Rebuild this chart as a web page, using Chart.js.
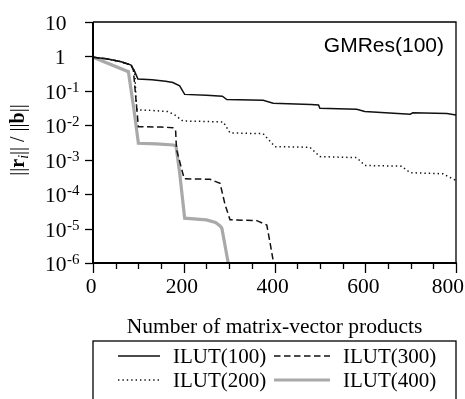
<!DOCTYPE html>
<html>
<head>
<meta charset="utf-8">
<title>GMRes(100) convergence</title>
<script src="https://cdn.jsdelivr.net/npm/chart.js@4.4.0/dist/chart.umd.min.js"></script>
<style>
  html, body { margin: 0; padding: 0; background: #fff; }
</style>
</head>
<body>
<canvas id="chart" width="465" height="399"></canvas>
<script>
// residual history for each ILUT fill level (x = matrix-vector products, y = ||r_i|| / ||b||)
const seriesNames = ["ILUT(100)", "ILUT(200)", "ILUT(300)", "ILUT(400)"];

const ilut100X = [0, 30, 62, 84, 92, 99, 130, 160, 176, 191, 202, 250, 285, 295, 375, 397, 480, 497, 500, 581, 599, 699, 705, 780, 800];
const ilut100Y = [0.95, 0.85, 0.70, 0.56, 0.36, 0.22, 0.21, 0.19, 0.175, 0.14, 0.079, 0.075, 0.070, 0.056, 0.053, 0.044, 0.040, 0.039, 0.031, 0.029, 0.025, 0.021, 0.023, 0.022, 0.020];

const ilut200X = [0, 30, 62, 84, 92, 95, 97, 130, 165, 180, 198, 240, 287, 302, 375, 401, 478, 500, 581, 599, 680, 699, 771, 800];
const ilut200Y = [0.95, 0.85, 0.70, 0.56, 0.36, 0.05, 0.028, 0.027, 0.025, 0.020, 0.0133, 0.0130, 0.0125, 0.0060, 0.0057, 0.0024, 0.0023, 0.00123, 0.00115, 0.00068, 0.00065, 0.00042, 0.00039, 0.00025];

const ilut300X = [0, 30, 62, 84, 89, 95, 100, 150, 176, 182, 184, 201, 258, 280, 291, 302, 361, 383, 390, 398];
const ilut300Y = [0.95, 0.85, 0.70, 0.56, 0.40, 0.05, 0.0091, 0.0089, 0.0085, 0.0075, 0.002, 0.00028, 0.00027, 0.000206, 0.00005, 0.000018, 0.000017, 0.0000127, 0.000004, 0.000001];

const ilut400X = [0, 78, 90, 100, 140, 177, 183, 191, 202, 250, 270, 280, 284, 298];
const ilut400Y = [0.95, 0.36, 0.03, 0.0030, 0.0029, 0.00268, 0.0025, 0.00041, 0.000020, 0.0000178, 0.000015, 0.000012, 0.0000102, 0.000001];

const xMajorTicks = [0, 200, 400, 600, 800];
const yTickPowers = [1, 0, -1, -2, -3, -4, -5, -6];

const serif = '"Liberation Serif", "Times New Roman", serif';
const sans = '"Liberation Sans", Arial, sans-serif';

function toPoints(xs, ys) {
  return xs.map((x, i) => ({ x: x, y: ys[i] }));
}

// axis box, tick marks and tick labels (10^n labels need superscripts)
const axesPlugin = {
  id: "axesFrame",
  afterDraw(chart) {
    const ctx = chart.ctx;
    const a = chart.chartArea;
    const xs = chart.scales.x;
    const ys = chart.scales.y;
    ctx.save();
    ctx.strokeStyle = "#000";
    ctx.fillStyle = "#000";

    ctx.lineWidth = 1.3;
    ctx.beginPath();
    ctx.moveTo(a.left, a.top);
    ctx.lineTo(a.right, a.top);
    ctx.lineTo(a.right, a.bottom);
    ctx.stroke();

    ctx.lineWidth = 2;
    ctx.beginPath();
    ctx.moveTo(a.left, a.top);
    ctx.lineTo(a.left, a.bottom);
    ctx.lineTo(a.right + 1, a.bottom);
    ctx.stroke();

    // x ticks every 50, longer on the labelled ones
    ctx.lineWidth = 1.3;
    for (let v = 0; v <= 800; v += 50) {
      const px = Math.round(xs.getPixelForValue(v)) + 0.5;
      const len = xMajorTicks.includes(v) ? 10 : 6;
      ctx.beginPath();
      ctx.moveTo(px, a.bottom);
      ctx.lineTo(px, a.bottom + len);
      ctx.stroke();
    }
    ctx.font = "21.5px " + serif;
    ctx.textBaseline = "alphabetic";
    xMajorTicks.forEach((v) => {
      const px = xs.getPixelForValue(v);
      const w = ctx.measureText(String(v)).width;
      // keep the last label inside the canvas
      const left = Math.min(px - 2 - w / 2, chart.width - 1 - w);
      ctx.textAlign = "left";
      ctx.fillText(String(v), left, a.bottom + 30);
    });

    // y ticks at each decade
    yTickPowers.forEach((p) => {
      const py = Math.round(ys.getPixelForValue(Math.pow(10, p))) + 0.5;
      ctx.beginPath();
      ctx.moveTo(a.left - 8, py);
      ctx.lineTo(a.left, py);
      ctx.stroke();

      ctx.font = "21.5px " + serif;
      ctx.textBaseline = "alphabetic";
      if (p === 0) {
        ctx.textAlign = "center";
        ctx.fillText("1", 60, py + 7);
      } else {
        ctx.textAlign = "left";
        ctx.fillText("10", 45, py + 7);
        if (p < 0) {
          ctx.font = "15px " + serif;
          ctx.fillText("-" + Math.abs(p), 67, py);
        }
      }
    });
    ctx.restore();
  }
};

// rotated y title: ||r_i|| / ||b|| with bold vectors
const yTitlePlugin = {
  id: "yTitle",
  afterDraw(chart) {
    const ctx = chart.ctx;
    const a = chart.chartArea;
    const parts = [
      { t: "||", f: "20px " + serif, dy: 0 },
      { t: "r", f: "bold 20px " + serif, dy: 0 },
      { t: "i", f: "italic 14px " + serif, dy: 4 },
      { t: "|| / ||", f: "20px " + serif, dy: 0 },
      { t: "b", f: "bold 20px " + serif, dy: 0 },
      { t: "||", f: "20px " + serif, dy: 0 }
    ];
    ctx.save();
    let total = 0;
    parts.forEach((p) => {
      ctx.font = p.f;
      p.w = ctx.measureText(p.t).width;
      total += p.w;
    });
    ctx.translate(24, 140);
    ctx.rotate(-Math.PI / 2);
    ctx.fillStyle = "#000";
    ctx.textAlign = "left";
    ctx.textBaseline = "alphabetic";
    let u = -total / 2;
    parts.forEach((p) => {
      ctx.font = p.f;
      ctx.fillText(p.t, u, p.dy);
      u += p.w;
    });
    ctx.restore();
  }
};

// x title, panel label and the boxed legend underneath
const textPlugin = {
  id: "extraText",
  afterDraw(chart) {
    const ctx = chart.ctx;
    const a = chart.chartArea;
    ctx.save();
    ctx.fillStyle = "#000";
    ctx.textBaseline = "alphabetic";

    ctx.font = "21.5px " + serif;
    ctx.textAlign = "center";
    ctx.fillText("Number of matrix-vector products", (a.left + a.right) / 2, 333);

    ctx.font = "21px " + sans;
    ctx.textAlign = "right";
    ctx.fillText("GMRes(100)", a.right - 12, 52);

    // legend frame runs off the bottom edge
    ctx.strokeStyle = "#000";
    ctx.lineWidth = 1.3;
    ctx.strokeRect(a.left, 341, a.right - a.left, 80);

    const slots = [
      { ds: 0, lx: 118, lw: 42, tx: 173, y: 356 },
      { ds: 2, lx: 274, lw: 56, tx: 343, y: 356 },
      { ds: 1, lx: 118, lw: 42, tx: 173, y: 380 },
      { ds: 3, lx: 274, lw: 56, tx: 343, y: 380 }
    ];
    slots.forEach((s) => {
      const ds = chart.data.datasets[s.ds];
      ctx.save();
      ctx.strokeStyle = ds.borderColor;
      ctx.lineWidth = ds.borderWidth;
      ctx.setLineDash(ds.borderDash || []);
      ctx.beginPath();
      ctx.moveTo(s.lx, s.y);
      ctx.lineTo(s.lx + s.lw, s.y);
      ctx.stroke();
      ctx.restore();
      ctx.font = "21px " + serif;
      ctx.textAlign = "left";
      ctx.fillText(ds.label, s.tx, s.y + 7);
    });
    ctx.restore();
  }
};

const ctx = document.getElementById("chart").getContext("2d");
new Chart(ctx, {
  type: "line",
  data: {
    datasets: [
      {
        label: seriesNames[0],
        data: toPoints(ilut100X, ilut100Y),
        borderColor: "#111",
        borderWidth: 1.5
      },
      {
        label: seriesNames[1],
        data: toPoints(ilut200X, ilut200Y),
        borderColor: "#111",
        borderWidth: 1.5,
        borderDash: [1.4, 3]
      },
      {
        label: seriesNames[2],
        data: toPoints(ilut300X, ilut300Y),
        borderColor: "#111",
        borderWidth: 1.5,
        borderDash: [6.5, 3.5]
      },
      {
        label: seriesNames[3],
        data: toPoints(ilut400X, ilut400Y),
        borderColor: "#a9a9a9",
        borderWidth: 3.2
      }
    ]
  },
  options: {
    responsive: false,
    animation: false,
    devicePixelRatio: 1,
    layout: { padding: { left: 0, right: 9, top: 22, bottom: 0 } },
    elements: {
      point: { radius: 0 },
      line: { tension: 0, fill: false, borderJoinStyle: "miter" }
    },
    plugins: {
      legend: { display: false },
      tooltip: { enabled: false }
    },
    scales: {
      x: {
        type: "linear",
        min: 0,
        max: 800,
        grid: { display: false },
        border: { display: false },
        ticks: { display: false },
        afterFit: (scale) => { scale.height = 399 - 263; }
      },
      y: {
        type: "logarithmic",
        min: 1e-6,
        max: 10,
        grid: { display: false },
        border: { display: false },
        ticks: { display: false },
        afterFit: (scale) => { scale.width = 93; }
      }
    }
  },
  plugins: [axesPlugin, yTitlePlugin, textPlugin]
});
</script>
</body>
</html>
